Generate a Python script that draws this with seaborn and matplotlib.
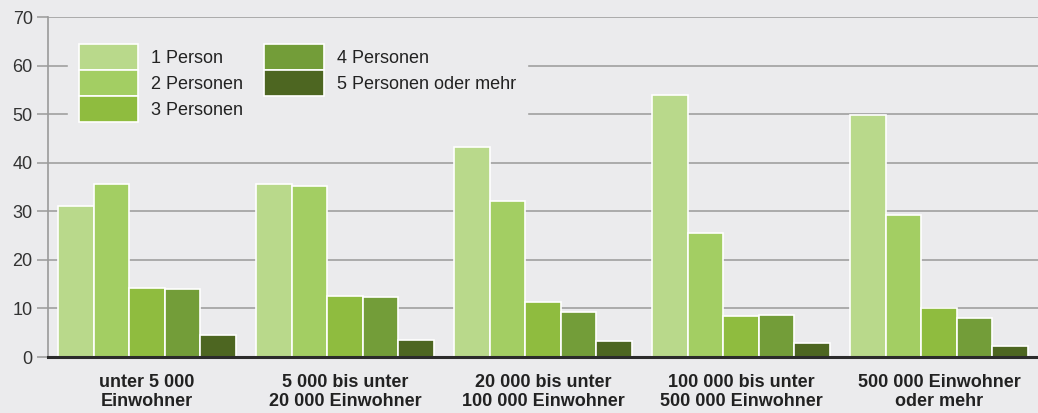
import pandas as pd
import matplotlib
matplotlib.use("Agg")
import matplotlib.pyplot as plt
import seaborn as sns

# Haushaltsgrößen nach Gemeindegrößenklassen (Anteil in %)
gemeinden = [
    "unter 5 000\nEinwohner",
    "5 000 bis unter\n20 000 Einwohner",
    "20 000 bis unter\n100 000 Einwohner",
    "100 000 bis unter\n500 000 Einwohner",
    "500 000 Einwohner\noder mehr",
]
haushalte = ["1 Person", "2 Personen", "3 Personen", "4 Personen", "5 Personen oder mehr"]

p1 = [31.0, 35.7, 43.3, 54.0, 49.8]
p2 = [35.7, 35.3, 32.1, 25.5, 29.2]
p3 = [14.2, 12.6, 11.3, 8.5, 10.1]
p4 = [14.0, 12.4, 9.3, 8.6, 8.0]
p5 = [4.5, 3.4, 3.3, 2.8, 2.3]

colors = ["#b9d98b", "#a3ce63", "#8fbc3f", "#739d39", "#4d6621"]
bg = "#ebebed"

rows = []
for name, vals in zip(haushalte, [p1, p2, p3, p4, p5]):
    for g, v in zip(gemeinden, vals):
        rows.append({"Gemeinde": g, "Haushalt": name, "Anteil": v})
df = pd.DataFrame(rows)

sns.set_theme(style="white")
plt.rcParams["font.family"] = ["Liberation Sans", "DejaVu Sans"]

fig = plt.figure(figsize=(10.38, 4.13), dpi=100, facecolor=bg)
ax = fig.add_axes([48 / 1038, 1 - 357 / 413, 1 - 48 / 1038, (357 - 17) / 413])
ax.set_facecolor(bg)

sns.barplot(data=df, x="Gemeinde", y="Anteil", hue="Haushalt", order=gemeinden,
            hue_order=haushalte, palette=colors, width=0.9, edgecolor="white",
            linewidth=1.2, saturation=1, ax=ax)

ax.set_ylim(0, 70)
ax.set_xlim(-0.5, 4.5)
ax.set_yticks(range(0, 71, 10))
ax.set_xlabel("")
ax.set_ylabel("")
ax.set_axisbelow(True)
ax.yaxis.grid(True, color="#a6a6a6", linewidth=1.3)
ax.xaxis.grid(False)

for s in ["top", "right"]:
    ax.spines[s].set_visible(False)
ax.spines["left"].set_color("#9a9a9a")
ax.spines["left"].set_linewidth(1.2)
ax.spines["bottom"].set_color("#2b2b2b")
ax.spines["bottom"].set_linewidth(2.2)

ax.tick_params(axis="y", length=8, width=1.3, color="#a6a6a6", pad=3,
               labelsize=13, labelcolor="#333333", left=True)
ax.tick_params(axis="x", length=0, pad=12, labelsize=13, labelcolor="#222222")
for lab in ax.get_xticklabels():
    lab.set_fontweight("bold")

handles, labels = ax.get_legend_handles_labels()
leg = ax.legend(handles, labels, ncol=2, loc="upper left",
                bbox_to_anchor=(68 / 1038, 1 - 33 / 413), bbox_transform=fig.transFigure,
                borderaxespad=0, borderpad=0.6, frameon=True, fancybox=False,
                facecolor=bg, edgecolor=bg, framealpha=1, fontsize=13,
                handlelength=3.3, handleheight=1.84, handletextpad=0.72,
                labelspacing=0, columnspacing=1.15, labelcolor="#222222")
for h in leg.legend_handles:
    h.set_edgecolor("white")
    h.set_linewidth(1.2)

fig.savefig("out.png", dpi=100, facecolor=bg)
